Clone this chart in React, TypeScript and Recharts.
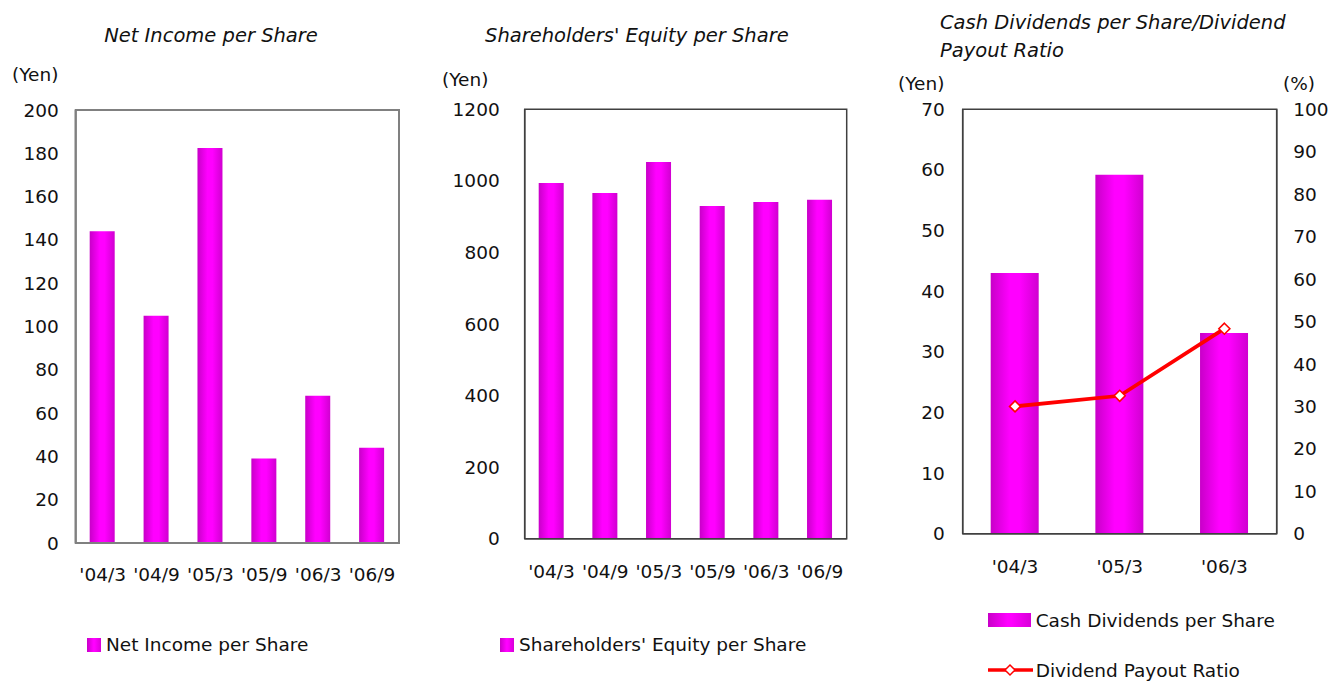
import React from 'react';
import { BarChart, ComposedChart, Bar, Line, XAxis, YAxis, Legend, ReferenceArea } from 'recharts';

const niCategories = ["'04/3", "'04/9", "'05/3", "'05/9", "'06/3", "'06/9"];
const niValues = [144, 105, 182.5, 39, 68, 44];
const niTicks = [0, 20, 40, 60, 80, 100, 120, 140, 160, 180, 200];

const eqCategories = ["'04/3", "'04/9", "'05/3", "'05/9", "'06/3", "'06/9"];
const eqValues = [994, 966, 1053, 930, 941, 947];
const eqTicks = [0, 200, 400, 600, 800, 1000, 1200];

const divCategories = ["'04/3", "'05/3", "'06/3"];
const divValues = [43, 59.2, 33.1];
const payoutValues = [30, 32.5, 48.3];
const divTicks = [0, 10, 20, 30, 40, 50, 60, 70];
const payoutTicks = [0, 10, 20, 30, 40, 50, 60, 70, 80, 90, 100];

const niData = niCategories.map((c, i) => ({ cat: c, v: niValues[i] }));
const eqData = eqCategories.map((c, i) => ({ cat: c, v: eqValues[i] }));
const divData = divCategories.map((c, i) => ({ cat: c, div: divValues[i], pay: payoutValues[i] }));

const FONT = '"DejaVu Sans", Verdana, sans-serif';
const tickStyle = { fontSize: 18.5, fill: '#111', fontFamily: FONT };
const swatchBg = 'linear-gradient(90deg, #c800c8 0%, #ff00ff 45%, #ff00ff 55%, #d800d8 100%)';

const Grad = ({ id }: { id: string }) => (
  <defs>
    <linearGradient id={id} x1="0" y1="0" x2="1" y2="0">
      <stop offset="0%" stopColor="#c800c8" />
      <stop offset="40%" stopColor="#ff00ff" />
      <stop offset="60%" stopColor="#ff00ff" />
      <stop offset="100%" stopColor="#d000d0" />
    </linearGradient>
  </defs>
);

const SquareLegend = (props: any) => {
  const p = (props.payload || [])[0];
  return (
    <div style={{ display: 'flex', alignItems: 'center', fontFamily: FONT, fontSize: 18.5, color: '#111', whiteSpace: 'nowrap' }}>
      <span style={{ display: 'inline-block', width: 14, height: 14, background: swatchBg, marginRight: 5 }} />
      <span>{p ? p.value : ''}</span>
    </div>
  );
};

const DivLegend = (props: any) => {
  const items = props.payload || [];
  const bar = items.find((x: any) => x.dataKey === 'div');
  const line = items.find((x: any) => x.dataKey === 'pay');
  return (
    <div style={{ fontFamily: FONT, fontSize: 18.5, color: '#111', whiteSpace: 'nowrap' }}>
      <div style={{ display: 'flex', alignItems: 'center', height: 22 }}>
        <span style={{ display: 'inline-block', width: 43, height: 14, background: swatchBg, marginRight: 5 }} />
        <span>{bar ? bar.value : ''}</span>
      </div>
      <div style={{ display: 'flex', alignItems: 'center', height: 22, marginTop: 28 }}>
        <svg width={45} height={14} style={{ marginRight: 3 }}>
          <line x1={0} y1={7} x2={45} y2={7} stroke="#ff0000" strokeWidth={3.5} />
          <path d="M22 2 L27 7 L22 12 L17 7 Z" fill="#fff" stroke="#ff0000" strokeWidth={1.5} />
        </svg>
        <span>{line ? line.value : ''}</span>
      </div>
    </div>
  );
};

const Diamond = (props: any) => {
  const { cx, cy } = props;
  if (cx == null || cy == null) return null;
  return <path d={`M${cx} ${cy - 5.5} L${cx + 5.5} ${cy} L${cx} ${cy + 5.5} L${cx - 5.5} ${cy} Z`} fill="#fff" stroke="#ff0000" strokeWidth={1.6} />;
};

const textBase: React.CSSProperties = { position: 'absolute', fontFamily: FONT, color: '#111', whiteSpace: 'nowrap', lineHeight: 'normal' };
const titleStyle: React.CSSProperties = { ...textBase, fontSize: 19.5, fontStyle: 'italic' };
const unitStyle: React.CSSProperties = { ...textBase, fontSize: 18.5 };

export default function App() {
  return (
    <div style={{ position: 'absolute', left: 0, top: 0, width: 1328, height: 681, background: '#fff', overflow: 'hidden' }}>
      {/* Chart 1 */}
      <div style={{ position: 'absolute', left: 0, top: 0 }}>
        <BarChart width={440} height={681} data={niData} margin={{ top: 110, right: 41, bottom: 98, left: 0 }}>
          <Grad id="g1" />
          <XAxis dataKey="cat" height={40} tickLine={false} tickSize={0} tickMargin={25} interval={0} tick={tickStyle} axisLine={{ stroke: '#808080', strokeWidth: 2 }} />
          <YAxis width={75.7} domain={[0, 200]} ticks={niTicks} interval={0} tickLine={false} tickSize={0} tickMargin={17} tick={tickStyle} axisLine={{ stroke: '#808080', strokeWidth: 2 }} />
          <ReferenceArea y1={0} y2={200} fill="none" fillOpacity={0} stroke="#808080" strokeWidth={2} ifOverflow="visible" />
          <Bar dataKey="v" name="Net Income per Share" fill="url(#g1)" barSize={25} isAnimationActive={false} />
          <Legend layout="horizontal" verticalAlign="middle" align="center" content={<SquareLegend />} wrapperStyle={{ left: 87, top: 634, width: 'auto', height: 'auto' }} />
        </BarChart>
      </div>

      {/* Chart 2 */}
      <div style={{ position: 'absolute', left: 440, top: 0 }}>
        <BarChart width={440} height={681} data={eqData} margin={{ top: 109.3, right: 33.3, bottom: 102.3, left: 0 }}>
          <Grad id="g2" />
          <XAxis dataKey="cat" height={40} tickLine={false} tickSize={0} tickMargin={26} interval={0} tick={tickStyle} axisLine={{ stroke: '#404040', strokeWidth: 1.5 }} />
          <YAxis width={84.7} domain={[0, 1200]} ticks={eqTicks} interval={0} tickLine={false} tickSize={0} tickMargin={25} tick={tickStyle} axisLine={{ stroke: '#404040', strokeWidth: 1.5 }} />
          <ReferenceArea y1={0} y2={1200} fill="none" fillOpacity={0} stroke="#404040" strokeWidth={1.5} ifOverflow="visible" />
          <Bar dataKey="v" name="Shareholders' Equity per Share" fill="url(#g2)" barSize={25} isAnimationActive={false} />
          <Legend layout="horizontal" verticalAlign="middle" align="center" content={<SquareLegend />} wrapperStyle={{ left: 60, top: 634, width: 'auto', height: 'auto' }} />
        </BarChart>
      </div>

      {/* Chart 3 */}
      <div style={{ position: 'absolute', left: 880, top: 0 }}>
        <ComposedChart width={448} height={681} data={divData} margin={{ top: 109.3, right: 0, bottom: 107.3, left: 0 }}>
          <Grad id="g3" />
          <XAxis dataKey="cat" height={40} tickLine={false} tickSize={0} tickMargin={26} interval={0} tick={tickStyle} axisLine={{ stroke: '#404040', strokeWidth: 1.5 }} />
          <YAxis yAxisId="l" width={82.7} domain={[0, 70]} ticks={divTicks} interval={0} tickLine={false} tickSize={0} tickMargin={18} tick={tickStyle} axisLine={{ stroke: '#404040', strokeWidth: 1.5 }} />
          <YAxis yAxisId="r" orientation="right" width={51.3} domain={[0, 100]} ticks={payoutTicks} interval={0} tickLine={false} tickSize={0} tickMargin={16.5} tick={tickStyle} axisLine={{ stroke: '#404040', strokeWidth: 1.5 }} />
          <ReferenceArea yAxisId="l" y1={0} y2={70} fill="none" fillOpacity={0} stroke="#404040" strokeWidth={1.5} ifOverflow="visible" />
          <Bar yAxisId="l" dataKey="div" name="Cash Dividends per Share" fill="url(#g3)" barSize={48} isAnimationActive={false} />
          <Line yAxisId="r" dataKey="pay" name="Dividend Payout Ratio" stroke="#ff0000" strokeWidth={3.8} dot={<Diamond />} activeDot={false} isAnimationActive={false} />
          <Legend layout="horizontal" verticalAlign="middle" align="center" content={<DivLegend />} wrapperStyle={{ left: 107.7, top: 609, width: 'auto', height: 'auto' }} />
        </ComposedChart>
      </div>

      {/* Titles and unit labels */}
      <div style={{ ...titleStyle, left: 0, width: 422, textAlign: 'center', top: 24 }}>Net Income per Share</div>
      <div style={{ ...titleStyle, left: 485, top: 24 }}>Shareholders' Equity per Share</div>
      <div style={{ ...titleStyle, left: 940, top: 11 }}>Cash Dividends per Share/Dividend</div>
      <div style={{ ...titleStyle, left: 940, top: 39 }}>Payout Ratio</div>

      <div style={{ ...unitStyle, left: 12, top: 64 }}>(Yen)</div>
      <div style={{ ...unitStyle, left: 442, top: 69 }}>(Yen)</div>
      <div style={{ ...unitStyle, left: 898, top: 73 }}>(Yen)</div>
      <div style={{ ...unitStyle, left: 1283, top: 73 }}>(%)</div>
    </div>
  );
}
